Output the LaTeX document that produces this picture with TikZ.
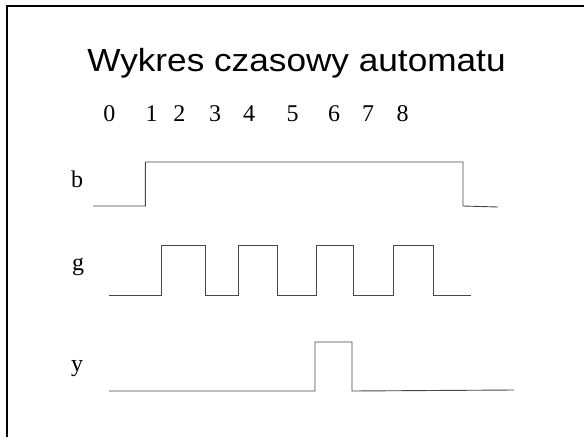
\documentclass[tikz,border=0pt]{standalone}
\usepackage{fontspec}
\setmainfont{Liberation Serif}
\newfontfamily\titlefont{Liberation Sans}
\begin{document}
\begin{tikzpicture}[x=1pt,y=-1pt,
  wave/.style={draw=black!72,line width=0.9pt,line join=miter},
  digit/.style={anchor=base,inner sep=0pt,font=\fontsize{24}{24}\selectfont},
  siglabel/.style={anchor=base,inner sep=0pt,font=\fontsize{24}{24}\selectfont}]
\useasboundingbox (0,0) rectangle (584,437);
% frame
\draw[line width=2pt] (7,437) -- (7,6) -- (584,6);
% title
\node[anchor=base,inner sep=0pt,xscale=1.1,transform shape,font=\titlefont\fontsize{32}{32}\selectfont] (title) at (296.5,71.7) {Wykres czasowy automatu};
% time labels
\foreach \n/\x in {0/109.3,1/151.7,2/179.3,3/215,4/249,5/292.7,6/334,7/368,8/402.7}
  \node[digit] (t\n) at (\x,121.5) {\n};
% signal labels
\node[siglabel] (lb) at (77,187) {b};
\node[siglabel] (lg) at (78,270) {g};
\node[siglabel] (ly) at (77,371) {y};
% waveforms
\draw[wave] (93,206) -- (145.3,206) -- (145.3,162) -- (463,162) -- (463,206) -- (498,207);
\draw[wave] (109,295) -- (161,295) -- (161,245) -- (205,245) -- (205,295) -- (238,295) -- (238,245) -- (277,245) -- (277,295) -- (316,295) -- (316,245) -- (353,245) -- (353,295) -- (393,295) -- (393,245) -- (433,245) -- (433,295) -- (471,295);
\draw[wave] (109,391) -- (315,391) -- (315,342) -- (352,342) -- (352,391) -- (514,390);
\end{tikzpicture}
\end{document}
